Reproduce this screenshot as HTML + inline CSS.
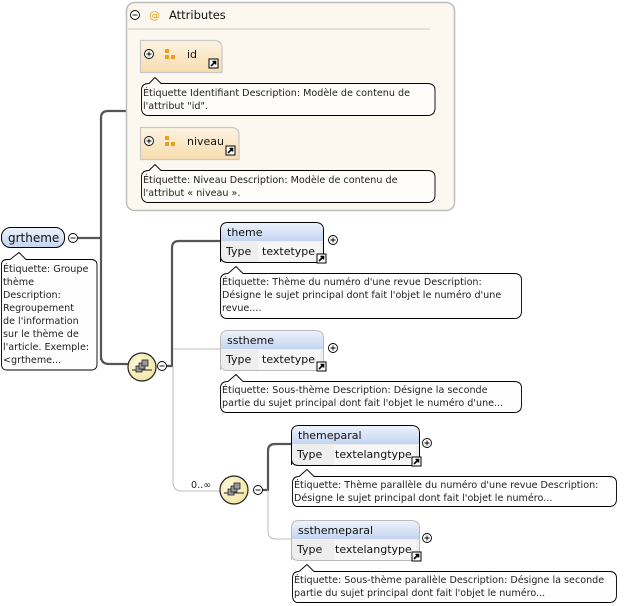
<!DOCTYPE html>
<html><head><meta charset="utf-8">
<style>
html,body{margin:0;padding:0;background:#fff;}
svg{display:block;font-family:"DejaVu Sans","Liberation Sans",sans-serif;}
.tt{font-size:9.6px;fill:#222;}
.nm{font-size:11px;fill:#111;}
</style></head><body>
<svg width="640" height="606" viewBox="0 0 640 606" xmlns="http://www.w3.org/2000/svg">
<defs>
<linearGradient id="bl" x1="0" y1="0" x2="0" y2="1"><stop offset="0" stop-color="#eef3fc"/><stop offset="1" stop-color="#c3d4f1"/></linearGradient>
<linearGradient id="or" x1="0" y1="0" x2="0" y2="1"><stop offset="0" stop-color="#fdf3e2"/><stop offset="1" stop-color="#f8dcae"/></linearGradient>
<radialGradient id="yl" cx="0.4" cy="0.4" r="0.6"><stop offset="0" stop-color="#fffbe0"/><stop offset="1" stop-color="#f2e6a6"/></radialGradient>
<g id="arr"><rect x="0" y="0" width="9" height="9" fill="#fff" stroke="#000"/><path d="M2,7 L6.5,2.5 M3.5,2.5 L6.5,2.5 L6.5,5.5" stroke="#000" stroke-width="1.6" fill="none"/></g>
<g id="plus"><circle cx="0" cy="0" r="4.5" fill="#fff" stroke="#000" stroke-width="0.9"/><path d="M-2.5,0H2.5M0,-2.5V2.5" stroke="#000" stroke-width="0.9"/></g>
<g id="minus"><circle cx="0" cy="0" r="4.5" fill="#fff" stroke="#000" stroke-width="0.9"/><path d="M-2.5,0H2.5" stroke="#000" stroke-width="0.9"/></g>
<g id="attic"><rect x="0" y="0" width="4" height="4" fill="#e8a020"/><rect x="0" y="6" width="4" height="4" fill="#e8a020"/><rect x="6" y="6" width="4" height="4" fill="#e8a020"/></g>
<g id="seq"><circle cx="0" cy="0" r="14" fill="url(#yl)" stroke="#222" stroke-width="1.2"/><path d="M-10,3H10" stroke="#222"/><rect x="-6" y="-1" width="6" height="6" fill="#999" stroke="#222" stroke-width="0.8"/><rect x="-3" y="-4" width="6" height="6" fill="#999" stroke="#222" stroke-width="0.8"/><rect x="0" y="-7" width="6" height="6" fill="#999" stroke="#222" stroke-width="0.8"/></g>
</defs>

<path d="M78,238 H101 M101,360 V118 Q101,111 108,111 H127 M101,356 Q101,364 109,364 H128" stroke="#555" stroke-width="2.2" fill="none"/>
<path d="M166,366 H172 V248 Q172,241 179,241 H220" stroke="#555" stroke-width="2.2" fill="none"/>
<path d="M173,349 H220 M173,366 V482 Q173,491 182,491 H220" stroke="#bbb" stroke-width="1" fill="none"/>
<path d="M262,490 H268 V451 Q268,444 275,444 H291" stroke="#555" stroke-width="2.2" fill="none"/>
<path d="M268,490 V531 Q268,539 276,539 H291" stroke="#bbb" stroke-width="1" fill="none"/>

<rect x="126.5" y="2.5" width="328" height="208" rx="8" fill="#fcf8f0" stroke="#bdbdbd" stroke-width="1.5"/>
<path d="M128,29 H430" stroke="#e6e2da" stroke-width="2"/>
<use href="#minus" x="135" y="15"/>
<text x="149" y="19" font-size="11" fill="#e8a020">@</text>
<text x="169" y="19" class="nm" style="font-size:11.5px">Attributes</text>

<path d="M140.5,40.5 H214 Q222,40.5 222,48 V72.5 H140.5 Z" fill="url(#or)" stroke="#c8c8c8" stroke-width="1.2"/>
<use href="#plus" x="149" y="54"/>
<use href="#attic" x="165" y="49"/>
<text x="187" y="58" class="nm">id</text>
<use href="#arr" x="209" y="59"/>
<path d="M149,83.5 L155,77.5 L161,83.5 H427 Q435,83.5 435,90 V108 Q435,115.5 427,115.5 H149 Q141.5,115.5 141.5,108 V90 Q141.5,83.5 149,83.5 Z" fill="#fefcf8" stroke="#000" stroke-width="0.9"/>
<text x="143" y="96" class="tt">Étiquette Identifiant Description: Modèle de contenu de</text>
<text x="143" y="109" class="tt">l'attribut "id".</text>

<path d="M140.5,127.5 H231 Q239,127.5 239,135 V159.5 H140.5 Z" fill="url(#or)" stroke="#c8c8c8" stroke-width="1.2"/>
<use href="#plus" x="149" y="141"/>
<use href="#attic" x="165" y="136"/>
<text x="187" y="145" class="nm">niveau</text>
<use href="#arr" x="226" y="146"/>
<path d="M149,170.5 L155,164.5 L161,170.5 H427 Q435,170.5 435,177 V195 Q435,202.5 427,202.5 H149 Q141.5,202.5 141.5,195 V177 Q141.5,170.5 149,170.5 Z" fill="#fefcf8" stroke="#000" stroke-width="0.9"/>
<text x="143" y="183" class="tt">Étiquette: Niveau Description: Modèle de contenu de</text>
<text x="143" y="196" class="tt">l'attribut « niveau ».</text>

<rect x="1.5" y="227.5" width="63" height="20" rx="9" fill="url(#bl)" stroke="#000" stroke-width="1"/>
<text x="8" y="242" class="nm" style="font-size:12px">grtheme</text>
<use href="#minus" x="73" y="238"/>
<path d="M10,259.5 L19,252.5 L26,259.5 H91 Q97,259.5 97,265 V364 Q97,370 91,370 H7 Q1.5,370 1.5,364 V265 Q1.5,259.5 7,259.5 Z" fill="#fefefe" stroke="#000" stroke-width="0.9"/>
<text class="tt"><tspan x="3" y="272">Étiquette: Groupe</tspan><tspan x="3" y="285">thème</tspan><tspan x="3" y="298">Description:</tspan><tspan x="3" y="311">Regroupement</tspan><tspan x="3" y="324">de l'information</tspan><tspan x="3" y="337">sur le thème de</tspan><tspan x="3" y="350">l'article. Exemple:</tspan><tspan x="3" y="363">&lt;grtheme...</tspan></text>

<use href="#seq" x="142" y="367"/>
<use href="#minus" x="162" y="366"/>

<path d="M220.5,262 V230 Q220.5,222.5 228,222.5 H315 Q323.5,222.5 323.5,230 V262.5 H228 Q220.5,262.5 220.5,256 Z" fill="#eeeeee" stroke="#000" stroke-width="1"/>
<path d="M221,241 V230 Q221,223 228,223 H315 Q323,223 323,230 V241 Z" fill="url(#bl)"/>
<rect x="258" y="242" width="62" height="20" fill="#f6f6f6"/>
<text x="227" y="236" class="nm">theme</text>
<text x="226" y="255" class="nm">Type</text>
<text x="262" y="255" class="nm">textetype</text>
<use href="#arr" x="317" y="254"/>
<use href="#plus" x="333" y="240"/>
<path d="M228,273.5 L236,266.5 L243,273.5 H514 Q521.5,273.5 521.5,280 V311 Q521.5,318.5 514,318.5 H227 Q220.5,318.5 220.5,311 V280 Q220.5,273.5 228,273.5 Z" fill="#fefefe" stroke="#000" stroke-width="0.9"/>
<text class="tt"><tspan x="222" y="285">Étiquette: Thème du numéro d'une revue Description:</tspan><tspan x="222" y="298">Désigne le sujet principal dont fait l'objet le numéro d'une</tspan><tspan x="222" y="311">revue....</tspan></text>

<path d="M220.5,370 V338 Q220.5,330.5 228,330.5 H315 Q323.5,330.5 323.5,338 V370.5 H228 Q220.5,370.5 220.5,364 Z" fill="#eeeeee" stroke="#bbb" stroke-width="1"/>
<path d="M221,349 V338 Q221,331 228,331 H315 Q323,331 323,338 V349 Z" fill="url(#bl)"/>
<rect x="258" y="350" width="62" height="20" fill="#f6f6f6"/>
<text x="227" y="344" class="nm">sstheme</text>
<text x="226" y="363" class="nm">Type</text>
<text x="262" y="363" class="nm">textetype</text>
<use href="#arr" x="317" y="362"/>
<use href="#plus" x="333" y="348"/>
<path d="M228,381.5 L236,374.5 L243,381.5 H514 Q521.5,381.5 521.5,388 V405 Q521.5,412.5 514,412.5 H227 Q220.5,412.5 220.5,405 V388 Q220.5,381.5 228,381.5 Z" fill="#fefefe" stroke="#000" stroke-width="0.9"/>
<text class="tt"><tspan x="222" y="393">Étiquette: Sous-thème Description: Désigne la seconde</tspan><tspan x="222" y="406">partie du sujet principal dont fait l'objet le numéro d'une...</tspan></text>

<text x="191" y="488" class="tt" fill="#333">0..∞</text>
<use href="#seq" x="234" y="490"/>
<use href="#minus" x="258" y="490"/>

<path d="M291.5,465 V433 Q291.5,425.5 299,425.5 H411 Q419.5,425.5 419.5,433 V465.5 H299 Q291.5,465.5 291.5,459 Z" fill="#eeeeee" stroke="#000" stroke-width="1"/>
<path d="M292,444 V433 Q292,426 299,426 H411 Q419,426 419,433 V444 Z" fill="url(#bl)"/>
<rect x="334" y="445" width="82" height="20" fill="#f6f6f6"/>
<text x="298" y="439" class="nm">themeparal</text>
<text x="297" y="458" class="nm">Type</text>
<text x="335" y="458" class="nm">textelangtype</text>
<use href="#arr" x="412" y="457"/>
<use href="#plus" x="427" y="443"/>
<path d="M299,476.5 L307,469.5 L314,476.5 H609 Q616.5,476.5 616.5,483 V499 Q616.5,506.5 609,506.5 H298 Q292.5,506.5 292.5,499 V483 Q292.5,476.5 299,476.5 Z" fill="#fefefe" stroke="#000" stroke-width="0.9"/>
<text class="tt"><tspan x="294" y="488">Étiquette: Thème parallèle du numéro d'une revue Description:</tspan><tspan x="294" y="501">Désigne le sujet principal dont fait l'objet le numéro...</tspan></text>

<path d="M291.5,560 V528 Q291.5,520.5 299,520.5 H411 Q419.5,520.5 419.5,528 V560.5 H299 Q291.5,560.5 291.5,554 Z" fill="#eeeeee" stroke="#bbb" stroke-width="1"/>
<path d="M292,539 V528 Q292,521 299,521 H411 Q419,521 419,528 V539 Z" fill="url(#bl)"/>
<rect x="334" y="540" width="82" height="20" fill="#f6f6f6"/>
<text x="298" y="534" class="nm">ssthemeparal</text>
<text x="297" y="553" class="nm">Type</text>
<text x="335" y="553" class="nm">textelangtype</text>
<use href="#arr" x="412" y="552"/>
<use href="#plus" x="427" y="538"/>
<path d="M299,571.5 L307,564.5 L314,571.5 H609 Q616.5,571.5 616.5,578 V595 Q616.5,602.5 609,602.5 H298 Q292.5,602.5 292.5,595 V578 Q292.5,571.5 299,571.5 Z" fill="#fefefe" stroke="#000" stroke-width="0.9"/>
<text class="tt"><tspan x="294" y="583">Étiquette: Sous-thème parallèle Description: Désigne la seconde</tspan><tspan x="294" y="596">partie du sujet principal dont fait l'objet le numéro...</tspan></text>
</svg>
</body></html>
